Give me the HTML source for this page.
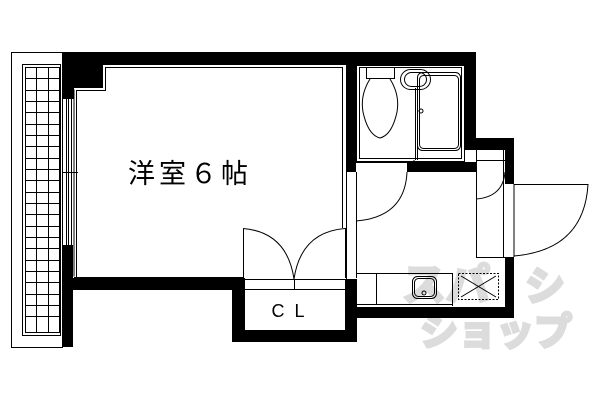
<!DOCTYPE html>
<html><head><meta charset="utf-8"><style>html,body{margin:0;padding:0;background:#fff}svg{display:block}</style></head>
<body>
<svg width="600" height="400" viewBox="0 0 600 400" xmlns="http://www.w3.org/2000/svg">
<rect width="600" height="400" fill="#fff"/>
<!-- watermark -->
<g fill="#dcdcdc" stroke="#dcdcdc" stroke-width="3" font-family="Liberation Sans, Noto Sans CJK JP, sans-serif" font-weight="bold">
<text x="402" y="300" font-size="44">スパ</text>
<text x="525" y="300" font-size="40">シ</text>
<text x="420" y="345" font-size="38">ショップ</text>
</g>
<!-- balcony -->
<g fill="none" stroke="#000" stroke-width="1">
<rect x="11.5" y="52.5" width="51" height="295"/>
<rect x="22.5" y="64.5" width="38" height="271"/>
<rect x="25.5" y="67.5" width="34" height="265"/>
</g>
<g stroke="#000" stroke-width="1">
<line x1="36.5" y1="67" x2="36.5" y2="332"/>
<line x1="48.5" y1="67" x2="48.5" y2="332"/>
<path d="M25 78.5H60M25 90.5H60M25 101.5H60M25 112.5H60M25 124.5H60M25 135.5H60M25 146.5H60M25 158.5H60M25 169.5H60M25 180.5H60M25 192.5H60M25 203.5H60M25 214.5H60M25 226.5H60M25 237.5H60M25 248.5H60M25 260.5H60M25 271.5H60M25 282.5H60M25 294.5H60M25 305.5H60M25 316.5H60"/>
</g>
<!-- walls -->
<g fill="#000">
<rect x="62" y="52" width="414" height="13"/>
<rect x="62" y="52" width="41" height="36"/>
<rect x="62" y="52" width="12" height="47"/>
<rect x="62" y="245" width="11" height="102"/>
<rect x="62" y="278" width="171" height="12"/>
<rect x="232" y="278" width="13" height="64"/>
<rect x="232" y="330" width="125" height="12"/>
<rect x="345" y="279" width="12" height="63"/>
<rect x="346" y="52" width="10" height="120"/>
<rect x="407" y="162" width="69" height="10"/>
<rect x="465" y="52" width="11" height="98"/>
<rect x="465" y="138" width="49" height="12"/>
<rect x="505" y="138" width="9" height="46"/>
<rect x="505" y="257" width="9" height="61"/>
<rect x="346" y="307" width="168" height="11"/>
</g>
<g fill="none" stroke="#000" stroke-width="1">
<line x1="66.5" y1="99" x2="66.5" y2="245"/>
<line x1="68.5" y1="99" x2="68.5" y2="245"/>
<line x1="71.5" y1="99" x2="71.5" y2="245"/>
<line x1="62" y1="172.5" x2="78" y2="172.5"/>
<path d="M74 277.5H243M76.5 277V90.5H105.5V67.5H342.5V228"/>
<path d="M74 276.5V89.5"/>
<path d="M243.5 278V228.5M345.5 228V278"/>
<path d="M243 228.5Q287 232 294 279M345 228.5Q301 232 294 279"/>
<line x1="243" y1="279.5" x2="345" y2="279.5"/>
<line x1="243" y1="289.5" x2="345" y2="289.5"/>
<line x1="294.5" y1="279" x2="294.5" y2="290"/>
<rect x="356.5" y="65.5" width="108" height="96"/>
<rect x="359.5" y="67.5" width="102" height="91"/>
<rect x="366.5" y="67.5" width="28" height="11"/>
<path d="M370 79Q360 95 363 112Q368 135 380 138Q392 135 397 112Q400 95 390 79"/>
<rect x="400.5" y="69.5" width="30" height="20" rx="10"/>
<rect x="404.5" y="72.5" width="22" height="14" rx="7"/>
<rect x="417.5" y="72.5" width="43" height="78" rx="5"/>
<rect x="419.5" y="75.5" width="39" height="73" rx="4"/>
<line x1="417.5" y1="88" x2="417.5" y2="160"/>
<line x1="415.5" y1="88" x2="415.5" y2="160"/>
<circle cx="421" cy="111" r="2"/>
<line x1="414" y1="160" x2="413" y2="172"/>
<path d="M356.5 172V278M346.5 172V279"/>
<line x1="356" y1="162.5" x2="407" y2="162.5"/>
<path d="M356 221Q405 217 407 172"/>
<path d="M476.5 150V257.5H505M503.5 150V257"/>
<line x1="476" y1="160.5" x2="505" y2="160.5"/>
<path d="M476 199Q503 197 505 172"/>
<path d="M514 184.5H588Q584 250 514 256"/>
<path d="M514 184V257"/>
<path d="M356 273.5H452.5V306M356 304.5H452M376.5 273.5V304"/>
<rect x="412.5" y="276.5" width="24" height="22" rx="5"/>
<rect x="414.5" y="278.5" width="20" height="18" rx="4"/>
<circle cx="424" cy="293" r="2"/>
<rect x="458.5" y="273.5" width="40" height="26" stroke-dasharray="2,1.5"/>
<path d="M461 276L496 297M496 276L461 297"/>
</g>
<text x="190" y="183" text-anchor="middle" font-family="Liberation Sans, Noto Sans CJK JP, sans-serif" font-size="27" fill="#000" letter-spacing="4">洋室６帖</text>
<text x="293" y="317" text-anchor="middle" font-family="Liberation Sans, sans-serif" font-size="18" fill="#000" letter-spacing="10">CL</text>
</svg>
</body></html>
